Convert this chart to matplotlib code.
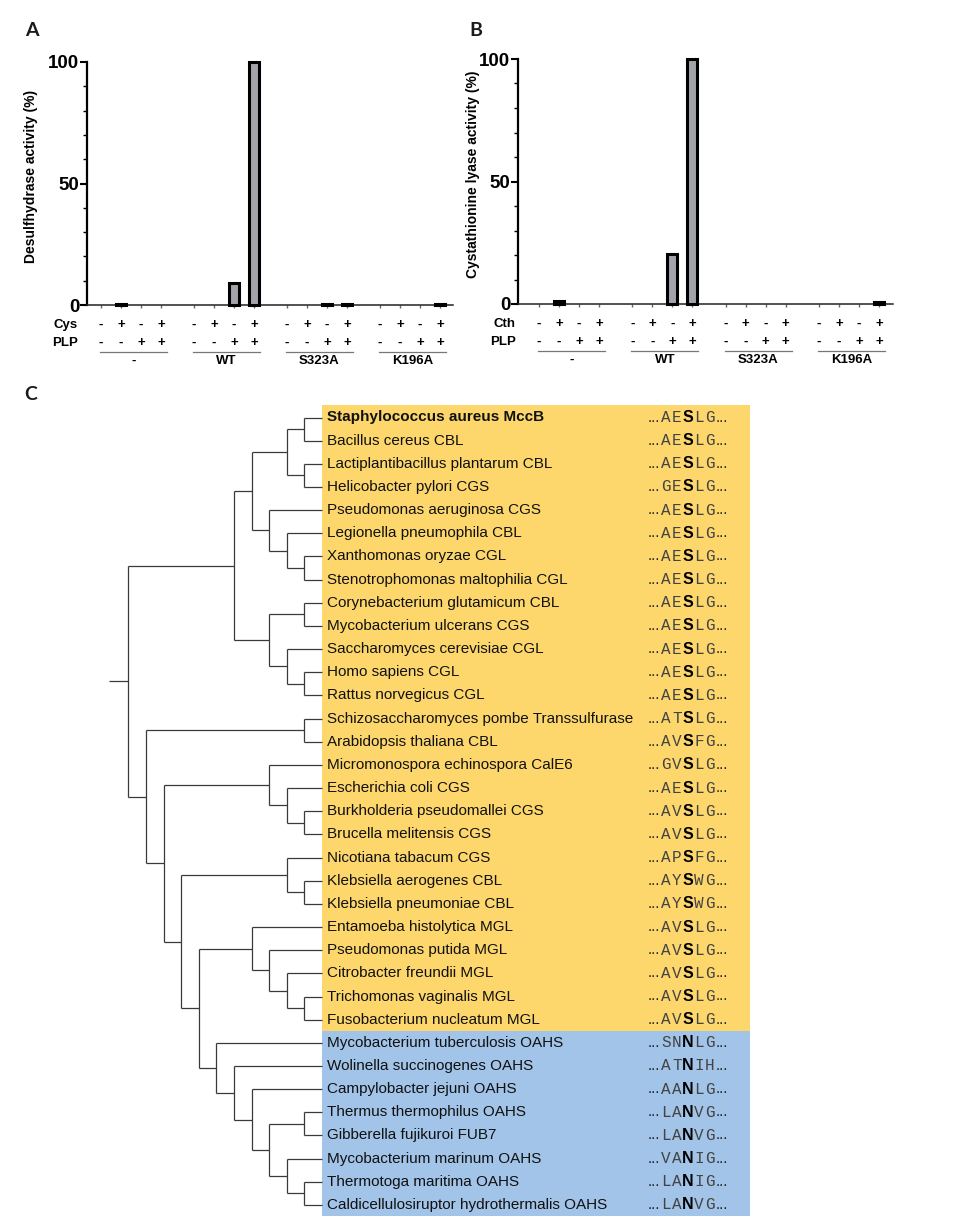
import matplotlib
matplotlib.use("Agg")
import matplotlib.pyplot as plt
from matplotlib.patches import Rectangle
from matplotlib.transforms import offset_copy

plt.rcParams['font.family'] = ['Liberation Sans', 'DejaVu Sans']

# ---------------- data: panels A and B ----------------
first_cond = ['-', '+', '-', '+']      # Cys (A) / Cth (B)
plp_cond = ['-', '-', '+', '+']
groups = ['-', 'WT', 'S323A', 'K196A']
desulfhydrase = [[0, 0.5, 0, 0], [0, 0, 9, 100], [0, 0, 0.3, 0.3], [0, 0, 0, 0.4]]
cystathionine_lyase = [[0, 1.2, 0, 0], [0, 0, 20.5, 100], [0, 0, 0, 0], [0, 0, 0, 0.8]]

# ---------------- data: panel C ----------------
species = [
    "Staphylococcus aureus MccB", "Bacillus cereus CBL", "Lactiplantibacillus plantarum CBL",
    "Helicobacter pylori CGS", "Pseudomonas aeruginosa CGS", "Legionella pneumophila CBL",
    "Xanthomonas oryzae CGL", "Stenotrophomonas maltophilia CGL", "Corynebacterium glutamicum CBL",
    "Mycobacterium ulcerans CGS", "Saccharomyces cerevisiae CGL", "Homo sapiens CGL",
    "Rattus norvegicus CGL", "Schizosaccharomyces pombe Transsulfurase", "Arabidopsis thaliana CBL",
    "Micromonospora echinospora CalE6", "Escherichia coli CGS", "Burkholderia pseudomallei CGS",
    "Brucella melitensis CGS", "Nicotiana tabacum CGS", "Klebsiella aerogenes CBL",
    "Klebsiella pneumoniae CBL", "Entamoeba histolytica MGL", "Pseudomonas putida MGL",
    "Citrobacter freundii MGL", "Trichomonas vaginalis MGL", "Fusobacterium nucleatum MGL",
    "Mycobacterium tuberculosis OAHS", "Wolinella succinogenes OAHS", "Campylobacter jejuni OAHS",
    "Thermus thermophilus OAHS", "Gibberella fujikuroi FUB7", "Mycobacterium marinum OAHS",
    "Thermotoga maritima OAHS", "Caldicellulosiruptor hydrothermalis OAHS",
]
motifs = [
    "AESLG", "AESLG", "AESLG", "GESLG", "AESLG", "AESLG", "AESLG", "AESLG", "AESLG",
    "AESLG", "AESLG", "AESLG", "AESLG", "ATSLG", "AVSFG", "GVSLG", "AESLG", "AVSLG",
    "AVSLG", "APSFG", "AYSWG", "AYSWG", "AVSLG", "AVSLG", "AVSLG", "AVSLG", "AVSLG",
    "SNNLG", "ATNIH", "AANLG", "LANVG", "LANVG", "VANIG", "LANIG", "LANVG",
]
highlight = "Staphylococcus aureus MccB"
tree = (((((0, 1), (2, 3)), (4, (5, (6, 7)))), ((8, 9), (10, (11, 12)))),
        ((13, 14),
         ((15, (16, (17, 18))),
          ((19, (20, 21)),
           ((22, (23, (24, (25, 26)))),
            (27, (28, (29, ((30, 31), (32, (33, 34)))))))))))

# ---------------- figure ----------------
W, H = 966, 1225
fig = plt.figure(figsize=(W / 100, H / 100), dpi=100)


def px_axes(left, top, right, bottom):
    return fig.add_axes([left / W, 1 - bottom / H, (right - left) / W, (bottom - top) / H])


def bar_panel(ax, values, first_name, ylabel, xlim, ylabel_x):
    pos = [g * 4.65 + i for g in range(len(groups)) for i in range(4)]
    vals = [v for grp in values for v in grp]
    bx = [p for p, v in zip(pos, vals) if v > 0]
    bv = [v for v in vals if v > 0]
    ax.bar(bx, bv, width=0.5, color='#a3a3ab', edgecolor='black', linewidth=2.2,
           clip_on=False, zorder=3)
    ax.set_xlim(*xlim)
    ax.set_ylim(0, 100)
    for s in ('top', 'right'):
        ax.spines[s].set_visible(False)
    ax.spines['left'].set_linewidth(1.6)
    ax.spines['bottom'].set_linewidth(1.1)
    ax.spines['bottom'].set_color('#222222')
    ax.set_yticks([0, 50, 100])
    ax.set_yticks(range(0, 101, 10), minor=True)
    ax.tick_params(axis='y', which='major', length=5, width=1.5, pad=0.5, labelsize=13.5)
    ax.tick_params(axis='y', which='minor', length=3, width=1)
    for lab in ax.get_yticklabels():
        lab.set_fontweight('bold')
    ax.set_xticks(pos)
    ax.set_xticklabels([])
    ax.tick_params(axis='x', length=2.5, width=1, color='#666666')
    ax.set_ylabel(ylabel, fontsize=10, fontweight='bold')
    ax.yaxis.set_label_coords(ylabel_x, 0.53)

    trans = ax.get_xaxis_transform()
    for dy, row, name in [(20, first_cond, first_name), (38, plp_cond, 'PLP')]:
        t = offset_copy(trans, fig=fig, x=0, y=-dy, units='dots')
        for g in range(len(groups)):
            for i, s in enumerate(row):
                ax.text(pos[g * 4 + i], 0, s, transform=t, ha='center', va='center',
                        fontsize=9.5, fontweight='bold', clip_on=False)
        ax.text(-1.15, 0, name, transform=t, ha='right', va='center',
                fontsize=9.5, fontweight='bold')
    tl = offset_copy(trans, fig=fig, x=0, y=-47, units='dots')
    tg = offset_copy(trans, fig=fig, x=0, y=-56, units='dots')
    for g, name in enumerate(groups):
        x0, x1 = pos[g * 4] - 0.05, pos[g * 4 + 3] + 0.3
        ax.plot([x0, x1], [0, 0], color='#777777', lw=0.9, transform=tl, clip_on=False)
        ax.text((x0 + x1) / 2, 0, name, transform=tg, ha='center', va='center',
                fontsize=9.5, fontweight='bold')


axA = px_axes(87, 62, 453, 305)
bar_panel(axA, desulfhydrase, 'Cys', 'Desulfhydrase activity (%)', (-0.7, 17.6), -0.134)
axB = px_axes(518, 59, 893, 304)
bar_panel(axB, cystathionine_lyase, 'Cth', 'Cystathionine lyase activity (%)', (-1.05, 17.65), -0.1)

# ---------------- panel C ----------------
axC = fig.add_axes([0, 0, 1, 1], zorder=-1)
axC.set_xlim(0, W)
axC.set_ylim(H, 0)
axC.axis('off')

row0, row_step = 417.5, 23.16
ys = [row0 + i * row_step for i in range(len(species))]
tip_x, level_step = 322, 17.6

# background boxes by key residue (S vs N)
box_l, box_r = 322, 750
runs = []
for i, m in enumerate(motifs):
    key = m[2]
    if runs and runs[-1][0] == key:
        runs[-1][2] = i
    else:
        runs.append([key, i, i])
box_colors = {'S': '#fdd76c', 'N': '#a2c4e8'}
for key, a, b in runs:
    top = ys[a] - 12.5 if a == 0 else (ys[a - 1] + ys[a]) / 2
    bot = ys[b] + 11.5 if b == len(species) - 1 else (ys[b] + ys[b + 1]) / 2
    axC.add_patch(Rectangle((box_l, top), box_r - box_l, bot - top,
                            facecolor=box_colors[key], edgecolor='none', zorder=0))

line_kw = dict(color='#3a3a3a', lw=0.9, solid_capstyle='butt', zorder=2)


def draw(node):
    """returns (x, y, height)"""
    if isinstance(node, int):
        return tip_x, ys[node], 0
    kids = [draw(c) for c in node]
    h = max(k[2] for k in kids) + 1
    x = tip_x - h * level_step
    cy = [k[1] for k in kids]
    axC.plot([x, x], [min(cy), max(cy)], **line_kw)
    for kx, ky, _ in kids:
        axC.plot([x, kx], [ky, ky], **line_kw)
    return x, (min(cy) + max(cy)) / 2, h


rx, ry, _ = draw(tree)
axC.plot([rx - 19, rx], [ry, ry], **line_kw)

pitch = 11.0
for i, name in enumerate(species):
    axC.text(327, ys[i], name, ha='left', va='center', fontsize=11,
             fontweight='bold' if name == highlight else 'normal', color='#111111', zorder=3)
    x = 648
    axC.text(x, ys[i], '...', ha='left', va='center', fontsize=11, color='#222222', zorder=3)
    x0 = x + 12.5 + pitch / 2
    for j, ch in enumerate(motifs[i]):
        if j == 2:
            axC.text(x0 + j * pitch, ys[i], ch, ha='center', va='center', fontsize=11.5,
                     fontweight='bold', color='black', zorder=3)
        else:
            axC.text(x0 + j * pitch, ys[i], ch, ha='center', va='center', fontsize=11.5,
                     family='Liberation Mono', color='#444444', zorder=3)
    axC.text(x0 + 4 * pitch + pitch / 2 + 0.5, ys[i], '...', ha='left', va='center',
             fontsize=11, color='#222222', zorder=3)

# panel labels
for lab, (lx, ly) in {'A': (32, 31), 'B': (476, 30), 'C': (31, 395)}.items():
    axC.text(lx, ly, lab, ha='center', va='center', fontsize=14, fontweight='bold',
             family=['Lato', 'DejaVu Sans'], color='#1a1a1a')

fig.savefig('out.png', dpi=100)
